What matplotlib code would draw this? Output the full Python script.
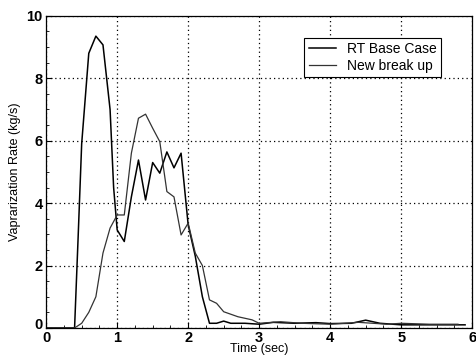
import numpy as np
import matplotlib
matplotlib.use('Agg')
import matplotlib.pyplot as plt
import matplotlib.transforms as mtransforms
from matplotlib.ticker import MultipleLocator

plt.rcParams['font.family'] = ['Liberation Sans', 'DejaVu Sans']

# RT Base Case (sharp first peak)
t_base = [0, 0.4, 0.45, 0.5, 0.6, 0.7, 0.8, 0.9, 0.95, 1.0, 1.1, 1.2, 1.3, 1.4,
          1.5, 1.6, 1.7, 1.8, 1.9, 2.0, 2.1, 2.2, 2.3, 2.4, 2.5, 2.6, 2.8, 3.0,
          3.2, 3.5, 3.8, 4.0, 4.3, 4.5, 4.7, 5.0, 5.3, 5.6, 5.9]
rate_base = [0, 0, 2.9, 5.9, 8.8, 9.35, 9.07, 7.0, 4.5, 3.14, 2.77, 4.2, 5.38, 4.1,
             5.3, 4.96, 5.64, 5.13, 5.6, 3.3, 2.3, 1.0, 0.15, 0.15, 0.22, 0.15, 0.15, 0.12,
             0.18, 0.15, 0.17, 0.14, 0.15, 0.25, 0.15, 0.1, 0.1, 0.1, 0.1]

# New break up (broader hump)
t_new = [0, 0.4, 0.5, 0.6, 0.7, 0.8, 0.9, 1.0, 1.1, 1.2, 1.3, 1.4, 1.5, 1.6,
         1.7, 1.8, 1.9, 2.0, 2.1, 2.2, 2.3, 2.4, 2.5, 2.7, 2.9, 3.0, 3.3, 3.6,
         4.0, 4.4, 4.8, 5.0, 5.4, 5.8]
rate_new = [0, 0, 0.15, 0.5, 1.0, 2.4, 3.2, 3.62, 3.62, 5.6, 6.72, 6.85, 6.4, 5.97,
            4.37, 4.2, 2.98, 3.36, 2.4, 2.0, 0.9, 0.79, 0.52, 0.36, 0.26, 0.15, 0.2, 0.15,
            0.12, 0.18, 0.12, 0.15, 0.12, 0.12]

x_ticks = [0, 1, 2, 3, 4, 5, 6]
y_ticks = [0, 2, 4, 6, 8, 10]

fig = plt.figure(figsize=(4.76, 3.6), dpi=100)
ax = fig.add_axes([0.097, 0.089, 0.895, 0.867])

ax.plot(t_base, rate_base, color='black', lw=1.1, label='RT Base Case')
ax.plot(t_new, rate_new, color='#333333', lw=0.9, label='New break up')

ax.set_xlim(0, 6)
ax.set_ylim(0, 10)
ax.set_xticks(x_ticks)
ax.set_yticks(y_ticks)
ax.xaxis.set_minor_locator(MultipleLocator(0.25))
ax.yaxis.set_minor_locator(MultipleLocator(0.5))
ax.tick_params(which='both', direction='in', top=False, right=False)
ax.tick_params(which='major', length=4, labelsize=10.5)
ax.tick_params(axis='x', which='major', pad=2)
ax.tick_params(axis='y', which='major', pad=2.5)
ax.tick_params(which='minor', length=2)
for lab in ax.get_xticklabels() + ax.get_yticklabels():
    lab.set_fontweight('bold')
# nudge the y "0" up a few pixels so it clears the x "0" in the corner
y0 = ax.get_yticklabels()[0]
y0.set_transform(y0.get_transform() + mtransforms.ScaledTranslation(0, 3 / 72, fig.dpi_scale_trans))

ax.grid(True, which='major', linestyle=(0, (1, 2.5)), color='black', lw=0.9)

ax.set_xlabel('Time (sec)', fontsize=9, labelpad=-1)
ax.set_ylabel('Vaprarization Rate (kg/s)', fontsize=9, labelpad=4)

for s in ax.spines.values():
    s.set_linewidth(0.9)

leg = ax.legend(loc='upper right', bbox_to_anchor=(0.944, 0.952), fontsize=10,
                handlelength=2.0, fancybox=False, framealpha=1, edgecolor='black',
                borderpad=0.3, labelspacing=0.2)
leg.get_frame().set_linewidth(0.8)

fig.savefig('out.png', dpi=100)
